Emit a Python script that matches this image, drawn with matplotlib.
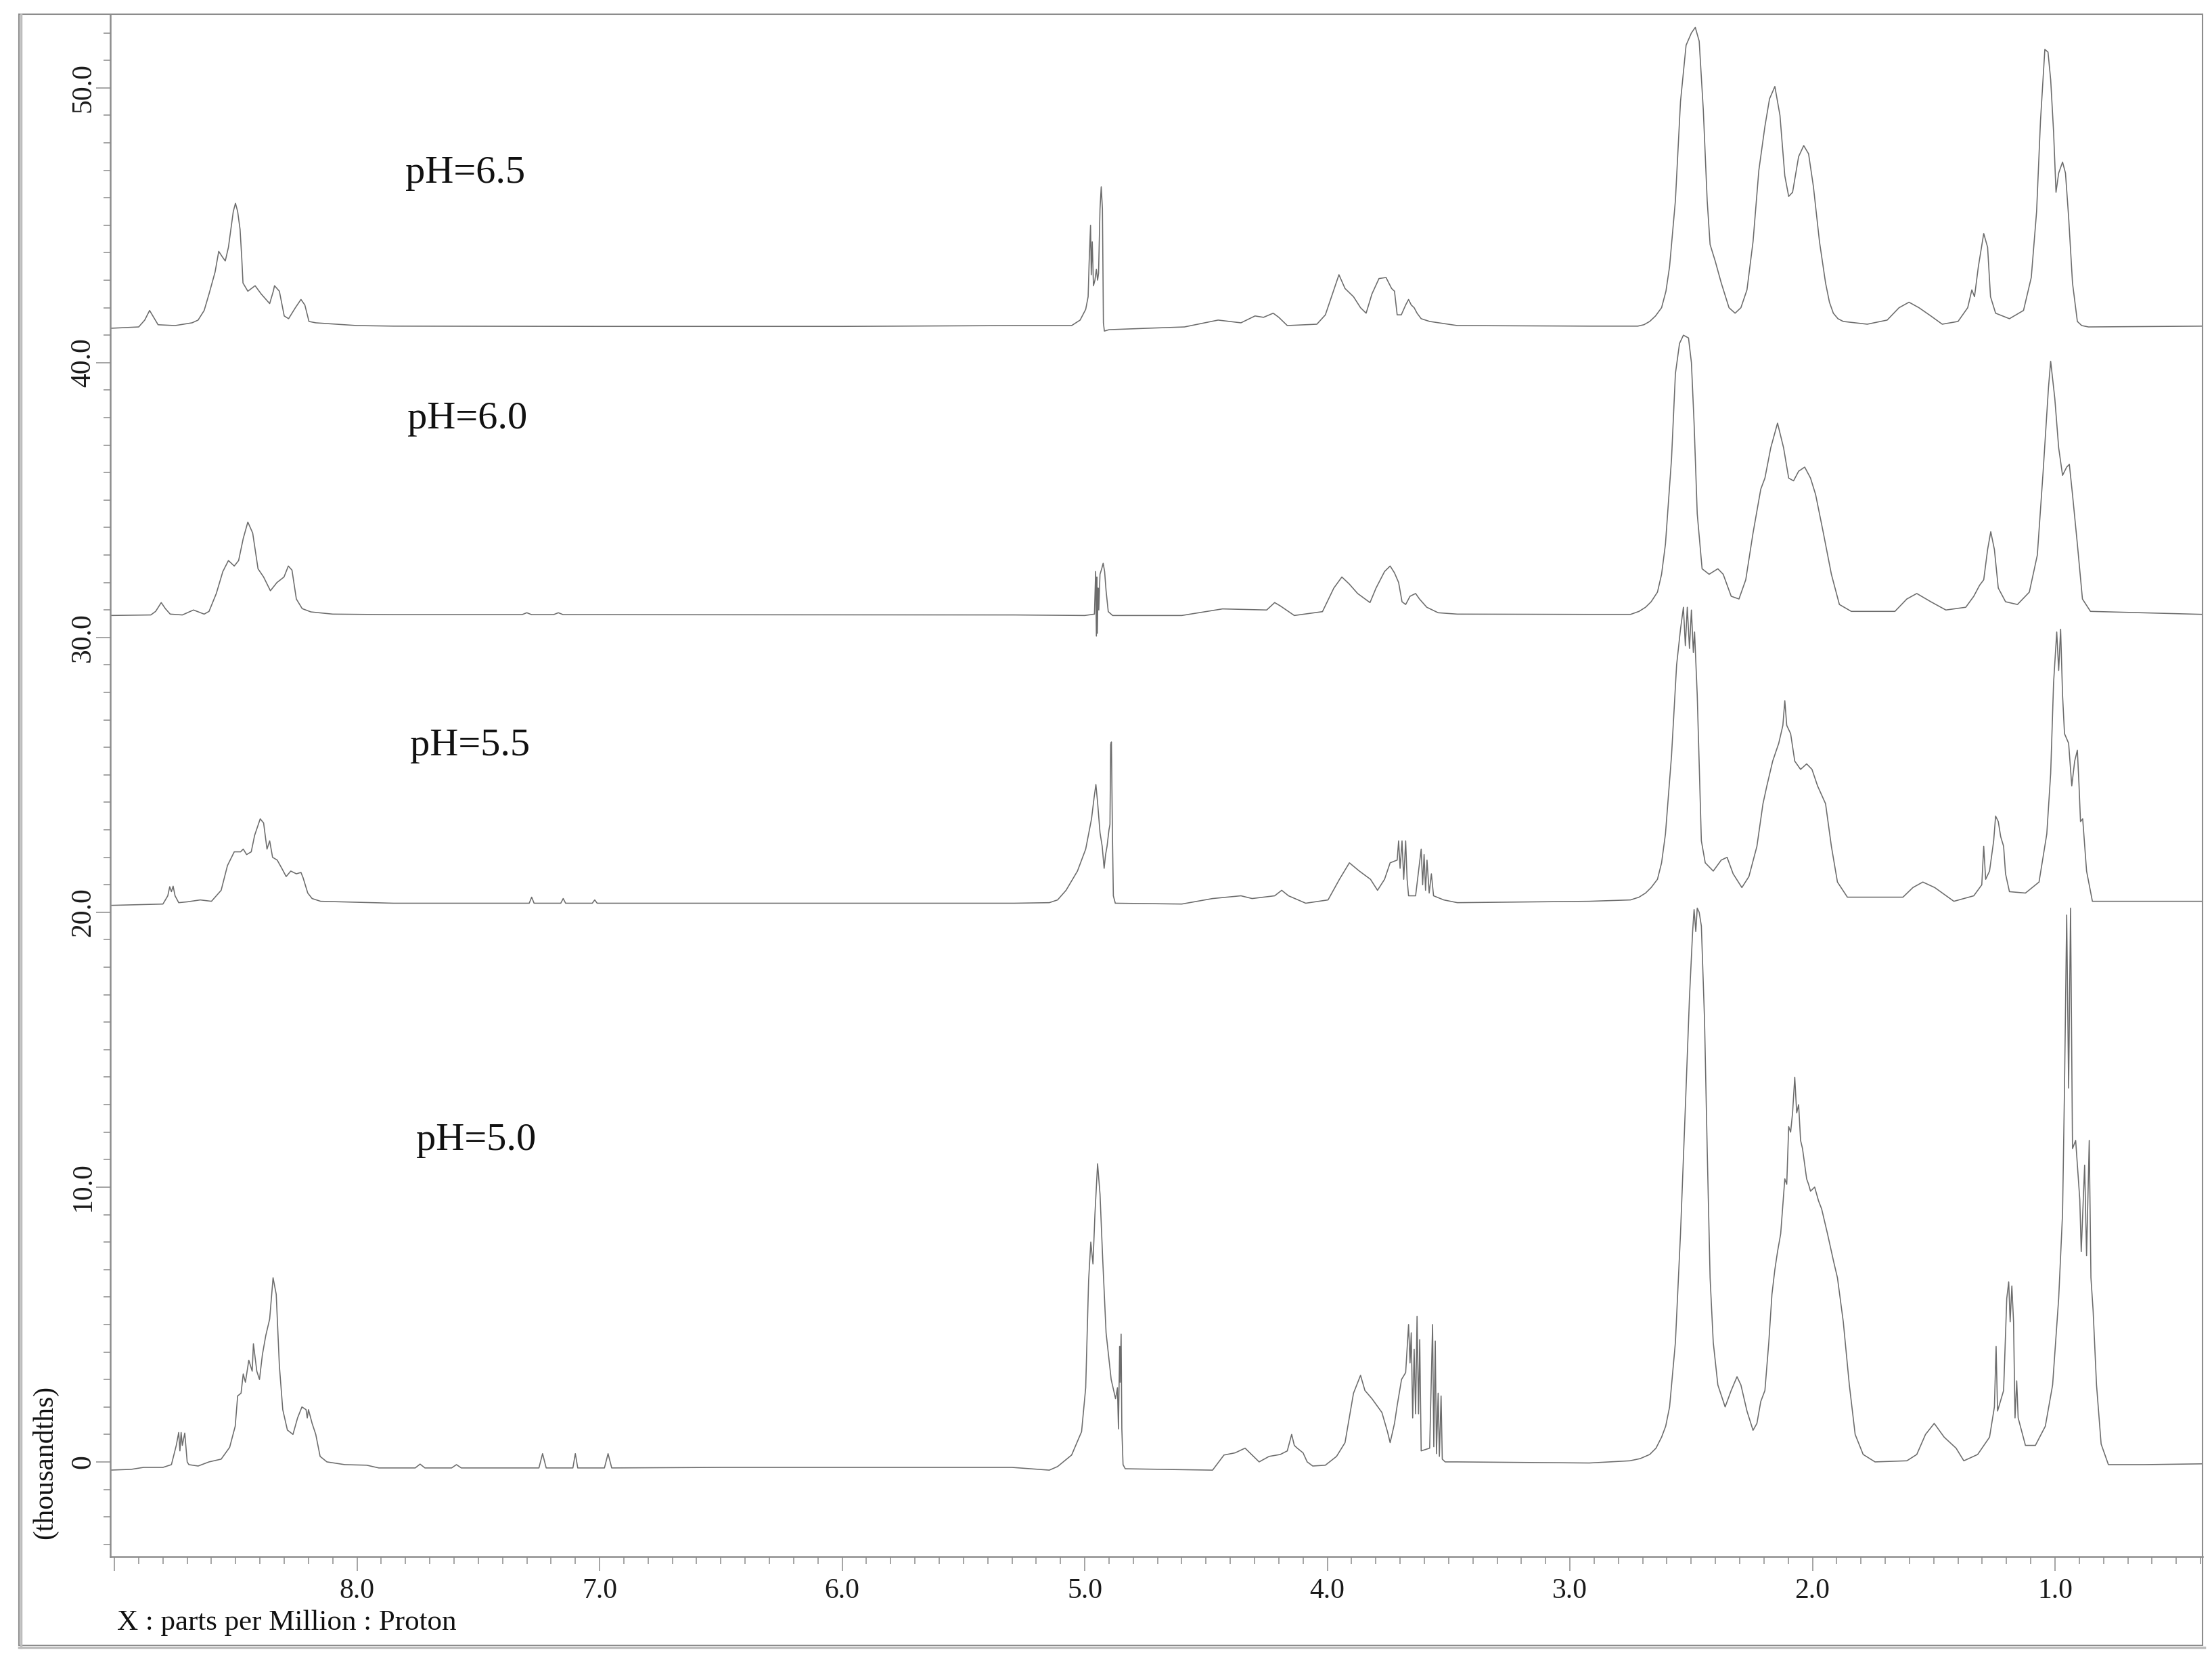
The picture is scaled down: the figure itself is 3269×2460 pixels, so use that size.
import numpy as np
import matplotlib
matplotlib.use("Agg")
import matplotlib.pyplot as plt
from matplotlib.ticker import MultipleLocator, FixedLocator, FixedFormatter
from matplotlib.patches import Rectangle
from matplotlib.lines import Line2D

# 1H NMR traces: (ppm, intensity in thousands)
ph65 = [
    (9.02, 41.25), (8.90, 41.3), (8.875, 41.55), (8.855, 41.9), (8.835, 41.6), (8.82, 41.38),
    (8.75, 41.35), (8.68, 41.45), (8.655, 41.55), (8.63, 41.9), (8.61, 42.5), (8.585, 43.3),
    (8.57, 44.05), (8.555, 43.85), (8.543, 43.7), (8.53, 44.2), (8.52, 44.85), (8.51, 45.5),
    (8.501, 45.8), (8.492, 45.5), (8.482, 44.85), (8.475, 43.8), (8.47, 42.9), (8.45, 42.6),
    (8.42, 42.8), (8.395, 42.5), (8.36, 42.15), (8.345, 42.6), (8.34, 42.8), (8.32, 42.6),
    (8.30, 41.7), (8.282, 41.6), (8.254, 42.0), (8.231, 42.3), (8.215, 42.1), (8.198, 41.5),
    (8.17, 41.45), (8.0, 41.35), (7.85, 41.33), (7.0, 41.32), (6.0, 41.32), (5.29, 41.35),
    (5.054, 41.35), (5.019, 41.55), (4.996, 41.94), (4.986, 42.4), (4.982, 43.6), (4.976, 45.0),
    (4.973, 43.2), (4.969, 44.4), (4.964, 42.8), (4.958, 43.0), (4.952, 43.4), (4.947, 43.0),
    (4.943, 43.25), (4.937, 45.6), (4.932, 46.4), (4.927, 45.6), (4.923, 41.45), (4.919, 41.15),
    (4.90, 41.2), (4.75, 41.25), (4.589, 41.3), (4.45, 41.55), (4.356, 41.45), (4.298, 41.7),
    (4.263, 41.65), (4.223, 41.8), (4.2, 41.65), (4.165, 41.35), (4.043, 41.4), (4.008, 41.74),
    (3.979, 42.5), (3.952, 43.2), (3.927, 42.7), (3.892, 42.4), (3.863, 42.0), (3.84, 41.8),
    (3.816, 42.5), (3.787, 43.06), (3.758, 43.1), (3.735, 42.7), (3.723, 42.6), (3.712, 41.74),
    (3.695, 41.74), (3.677, 42.1), (3.665, 42.3), (3.654, 42.1), (3.642, 42.0), (3.63, 41.8),
    (3.613, 41.6), (3.578, 41.5), (3.464, 41.35), (2.92, 41.33), (2.72, 41.33), (2.695, 41.38),
    (2.671, 41.5), (2.647, 41.7), (2.622, 42.0), (2.604, 42.6), (2.589, 43.5), (2.565, 45.9),
    (2.544, 49.5), (2.521, 51.55), (2.499, 52.0), (2.483, 52.2), (2.467, 51.7), (2.45, 49.2),
    (2.434, 45.9), (2.422, 44.3), (2.401, 43.7), (2.376, 42.9), (2.344, 42.0), (2.319, 41.8),
    (2.295, 42.0), (2.27, 42.65), (2.245, 44.4), (2.221, 47.0), (2.196, 48.6), (2.177, 49.6),
    (2.155, 50.05), (2.134, 49.0), (2.114, 46.8), (2.098, 46.05), (2.082, 46.2), (2.057, 47.5),
    (2.036, 47.9), (2.016, 47.6), (1.996, 46.4), (1.971, 44.4), (1.946, 42.9), (1.93, 42.2),
    (1.914, 41.8), (1.895, 41.6), (1.873, 41.5), (1.774, 41.4), (1.692, 41.55), (1.643, 42.0),
    (1.602, 42.2), (1.561, 42.0), (1.512, 41.7), (1.465, 41.4), (1.40, 41.5), (1.36, 42.0),
    (1.343, 42.65), (1.332, 42.4), (1.316, 43.5), (1.294, 44.7), (1.278, 44.2), (1.266, 42.4),
    (1.245, 41.8), (1.188, 41.6), (1.13, 41.9), (1.098, 43.1), (1.076, 45.5), (1.06, 48.8),
    (1.042, 51.4), (1.029, 51.3), (1.018, 50.3), (1.006, 48.4), (0.996, 46.2), (0.985, 46.9),
    (0.969, 47.3), (0.957, 46.9), (0.944, 45.3), (0.928, 42.9), (0.908, 41.5), (0.89, 41.35),
    (0.862, 41.3), (0.39, 41.33),
]

ph60 = [
    (9.02, 30.8), (8.85, 30.82), (8.83, 30.95), (8.807, 31.27), (8.79, 31.05), (8.77, 30.85),
    (8.72, 30.82), (8.674, 31.0), (8.63, 30.85), (8.61, 30.95), (8.58, 31.6), (8.553, 32.4),
    (8.53, 32.8), (8.506, 32.6), (8.488, 32.8), (8.469, 33.6), (8.45, 34.2), (8.43, 33.8),
    (8.408, 32.5), (8.385, 32.2), (8.357, 31.7), (8.33, 32.0), (8.301, 32.2), (8.283, 32.6),
    (8.268, 32.45), (8.25, 31.4), (8.226, 31.05), (8.19, 30.93), (8.1, 30.85), (7.85, 30.83),
    (7.32, 30.83), (7.30, 30.9), (7.28, 30.83), (7.19, 30.83), (7.17, 30.9), (7.15, 30.83),
    (5.29, 30.82), (5.0, 30.8), (4.96, 30.85), (4.955, 32.4), (4.952, 30.05), (4.95, 32.2),
    (4.948, 30.15), (4.945, 31.8), (4.942, 31.0), (4.937, 32.3), (4.93, 32.5), (4.924, 32.7),
    (4.918, 32.4), (4.912, 31.7), (4.903, 30.94), (4.885, 30.8), (4.6, 30.8), (4.432, 31.04),
    (4.25, 31.0), (4.217, 31.27), (4.194, 31.15), (4.136, 30.8), (4.02, 30.94), (3.973, 31.8),
    (3.94, 32.2), (3.91, 31.95), (3.875, 31.6), (3.824, 31.27), (3.799, 31.8), (3.764, 32.4),
    (3.741, 32.6), (3.723, 32.35), (3.706, 32.0), (3.692, 31.3), (3.677, 31.2), (3.659, 31.5),
    (3.636, 31.6), (3.62, 31.4), (3.59, 31.1), (3.543, 30.9), (3.464, 30.85), (2.92, 30.84),
    (2.75, 30.84), (2.715, 30.95), (2.688, 31.1), (2.665, 31.3), (2.639, 31.65), (2.622, 32.3),
    (2.606, 33.4), (2.581, 36.5), (2.565, 39.6), (2.548, 40.7), (2.532, 41.0), (2.511, 40.9),
    (2.499, 40.0), (2.488, 37.8), (2.475, 34.5), (2.455, 32.5), (2.426, 32.3), (2.39, 32.5),
    (2.368, 32.3), (2.335, 31.5), (2.303, 31.4), (2.275, 32.1), (2.245, 33.8), (2.213, 35.4),
    (2.196, 35.8), (2.172, 36.9), (2.144, 37.8), (2.119, 36.9), (2.098, 35.8), (2.078, 35.7),
    (2.057, 36.05), (2.032, 36.2), (2.008, 35.8), (1.987, 35.2), (1.955, 33.8), (1.922, 32.3),
    (1.889, 31.2), (1.84, 30.95), (1.66, 30.95), (1.611, 31.4), (1.57, 31.6), (1.512, 31.3),
    (1.45, 31.0), (1.368, 31.1), (1.335, 31.5), (1.311, 31.9), (1.294, 32.1), (1.278, 33.2),
    (1.265, 33.85), (1.25, 33.2), (1.234, 31.8), (1.204, 31.3), (1.155, 31.2), (1.106, 31.65),
    (1.073, 33.0), (1.049, 36.05), (1.027, 39.1), (1.018, 40.05), (1.001, 38.7), (0.985, 36.9),
    (0.969, 35.9), (0.952, 36.2), (0.941, 36.3), (0.928, 35.2), (0.908, 33.4), (0.887, 31.4),
    (0.854, 30.95), (0.39, 30.84),
]

ph55 = [
    (9.02, 20.25), (8.80, 20.3), (8.78, 20.6), (8.772, 20.93), (8.765, 20.75), (8.758, 20.95),
    (8.75, 20.6), (8.735, 20.35), (8.70, 20.38), (8.646, 20.45), (8.60, 20.4), (8.56, 20.8),
    (8.534, 21.7), (8.506, 22.2), (8.48, 22.2), (8.469, 22.3), (8.455, 22.1), (8.436, 22.2),
    (8.422, 22.8), (8.399, 23.4), (8.385, 23.25), (8.371, 22.3), (8.36, 22.6), (8.348, 22.0),
    (8.329, 21.9), (8.31, 21.6), (8.292, 21.3), (8.273, 21.5), (8.25, 21.4), (8.231, 21.45),
    (8.222, 21.25), (8.203, 20.7), (8.185, 20.5), (8.15, 20.4), (7.85, 20.33), (7.29, 20.33),
    (7.28, 20.55), (7.27, 20.33), (7.16, 20.33), (7.15, 20.5), (7.14, 20.33), (7.03, 20.33),
    (7.02, 20.45), (7.01, 20.33), (5.29, 20.33), (5.146, 20.35), (5.112, 20.45), (5.077, 20.8),
    (5.03, 21.5), (4.996, 22.3), (4.972, 23.4), (4.961, 24.2), (4.954, 24.65), (4.947, 24.0),
    (4.937, 22.9), (4.928, 22.4), (4.92, 21.6), (4.914, 22.1), (4.908, 22.4), (4.9, 23.0),
    (4.896, 23.2), (4.893, 26.1), (4.89, 26.2), (4.886, 23.0), (4.882, 20.6), (4.874, 20.33),
    (4.6, 20.3), (4.473, 20.5), (4.356, 20.6), (4.31, 20.5), (4.217, 20.6), (4.188, 20.8),
    (4.16, 20.6), (4.089, 20.33), (3.997, 20.45), (3.95, 21.2), (3.909, 21.8), (3.868, 21.5),
    (3.822, 21.2), (3.793, 20.8), (3.764, 21.2), (3.741, 21.8), (3.712, 21.9), (3.706, 22.6),
    (3.7, 21.6), (3.692, 22.6), (3.685, 21.2), (3.677, 22.6), (3.671, 21.2), (3.665, 20.6),
    (3.636, 20.6), (3.613, 22.3), (3.607, 21.0), (3.601, 22.1), (3.595, 20.8), (3.589, 21.9),
    (3.58, 20.7), (3.571, 21.4), (3.562, 20.6), (3.52, 20.45), (3.464, 20.35), (2.92, 20.4),
    (2.75, 20.45), (2.715, 20.55), (2.688, 20.7), (2.665, 20.9), (2.639, 21.2), (2.622, 21.8),
    (2.606, 22.85), (2.581, 25.7), (2.56, 29.0), (2.544, 30.3), (2.532, 31.1), (2.524, 29.7),
    (2.516, 31.1), (2.507, 29.6), (2.499, 31.0), (2.491, 29.45), (2.486, 30.2), (2.475, 27.9),
    (2.458, 22.6), (2.442, 21.8), (2.409, 21.5), (2.376, 21.9), (2.352, 22.0), (2.327, 21.4),
    (2.291, 20.9), (2.262, 21.3), (2.229, 22.4), (2.204, 23.95), (2.188, 24.6), (2.164, 25.5),
    (2.139, 26.15), (2.122, 26.8), (2.114, 27.7), (2.106, 26.8), (2.09, 26.5), (2.073, 25.5),
    (2.049, 25.2), (2.024, 25.4), (2.002, 25.2), (1.979, 24.6), (1.946, 23.95), (1.922, 22.4),
    (1.897, 21.1), (1.856, 20.55), (1.627, 20.55), (1.586, 20.9), (1.545, 21.1), (1.496, 20.9),
    (1.417, 20.4), (1.335, 20.6), (1.302, 21.0), (1.294, 22.4), (1.286, 21.2), (1.27, 21.5),
    (1.253, 22.6), (1.245, 23.5), (1.234, 23.3), (1.224, 22.75), (1.212, 22.4), (1.204, 21.4),
    (1.188, 20.75), (1.122, 20.7), (1.066, 21.1), (1.034, 22.85), (1.018, 25.05), (1.006, 28.35),
    (0.993, 30.2), (0.985, 28.8), (0.977, 30.3), (0.969, 27.9), (0.961, 26.5), (0.944, 26.15),
    (0.931, 24.6), (0.919, 25.5), (0.908, 25.9), (0.901, 24.6), (0.895, 23.3), (0.886, 23.4),
    (0.87, 21.5), (0.846, 20.4), (0.39, 20.4),
]

ph50 = [
    (9.02, -0.3), (8.93, -0.27), (8.88, -0.2), (8.80, -0.2), (8.765, -0.1), (8.745, 0.6),
    (8.735, 1.07), (8.73, 0.4), (8.725, 1.07), (8.72, 0.6), (8.71, 1.05), (8.70, 0.0),
    (8.693, -0.1), (8.655, -0.15), (8.61, 0.0), (8.56, 0.1), (8.525, 0.53), (8.502, 1.3),
    (8.492, 2.4), (8.478, 2.5), (8.469, 3.2), (8.46, 2.9), (8.446, 3.7), (8.432, 3.3),
    (8.427, 4.3), (8.413, 3.3), (8.402, 3.0), (8.39, 3.9), (8.376, 4.6), (8.36, 5.2),
    (8.346, 6.7), (8.333, 6.1), (8.32, 3.5), (8.306, 1.9), (8.287, 1.16), (8.264, 1.0),
    (8.245, 1.6), (8.227, 2.0), (8.21, 1.9), (8.205, 1.6), (8.2, 1.9), (8.194, 1.7),
    (8.185, 1.4), (8.17, 1.0), (8.152, 0.2), (8.124, 0.0), (8.05, -0.1), (7.96, -0.12),
    (7.91, -0.22), (7.76, -0.22), (7.74, -0.08), (7.72, -0.22), (7.61, -0.22), (7.59, -0.1),
    (7.57, -0.22), (7.25, -0.22), (7.235, 0.3), (7.22, -0.22), (7.11, -0.22), (7.10, 0.3),
    (7.09, -0.22), (6.98, -0.22), (6.965, 0.3), (6.95, -0.22), (6.5, -0.2), (5.3, -0.2),
    (5.146, -0.3), (5.112, -0.17), (5.054, 0.25), (5.013, 1.1), (4.996, 2.7), (4.984, 6.6),
    (4.975, 8.0), (4.966, 7.2), (4.958, 9.0), (4.947, 10.85), (4.937, 9.75), (4.926, 7.4),
    (4.912, 4.7), (4.891, 3.0), (4.873, 2.3), (4.865, 2.7), (4.861, 1.2), (4.856, 4.2),
    (4.854, 2.9), (4.85, 4.65), (4.847, 1.2), (4.842, -0.1), (4.833, -0.25), (4.473, -0.3),
    (4.426, 0.25), (4.38, 0.33), (4.339, 0.5), (4.31, 0.25), (4.281, 0.0), (4.24, 0.2),
    (4.194, 0.27), (4.165, 0.4), (4.147, 1.0), (4.136, 0.6), (4.124, 0.5), (4.1, 0.33),
    (4.083, 0.0), (4.06, -0.15), (4.008, -0.12), (3.962, 0.2), (3.927, 0.7), (3.892, 2.5),
    (3.863, 3.15), (3.845, 2.6), (3.816, 2.3), (3.775, 1.8), (3.752, 1.1), (3.741, 0.7),
    (3.723, 1.4), (3.712, 2.05), (3.694, 3.0), (3.677, 3.25), (3.665, 5.0), (3.659, 3.6),
    (3.654, 4.7), (3.648, 1.6), (3.642, 4.1), (3.636, 1.75), (3.63, 5.3), (3.624, 1.75),
    (3.619, 4.45), (3.613, 0.4), (3.578, 0.5), (3.566, 5.0), (3.561, 0.55), (3.555, 4.4),
    (3.55, 0.3), (3.543, 2.5), (3.538, 0.2), (3.531, 2.4), (3.526, 0.1), (3.514, 0.0),
    (3.464, 0.0), (2.92, -0.04), (2.753, 0.04), (2.71, 0.12), (2.671, 0.27), (2.645, 0.5),
    (2.622, 0.9), (2.605, 1.3), (2.589, 2.0), (2.565, 4.35), (2.544, 8.3), (2.524, 12.9),
    (2.507, 16.9), (2.494, 19.3), (2.488, 20.1), (2.481, 19.3), (2.475, 20.15), (2.467, 20.0),
    (2.458, 19.5), (2.445, 16.1), (2.434, 11.4), (2.422, 6.7), (2.409, 4.35), (2.39, 2.8),
    (2.36, 2.0), (2.335, 2.6), (2.311, 3.1), (2.295, 2.8), (2.27, 1.85), (2.245, 1.15),
    (2.229, 1.4), (2.213, 2.2), (2.196, 2.6), (2.18, 4.35), (2.167, 6.1), (2.155, 7.0),
    (2.144, 7.65), (2.131, 8.3), (2.114, 10.3), (2.106, 10.1), (2.098, 12.2), (2.09, 12.0),
    (2.082, 12.7), (2.073, 14.0), (2.065, 12.7), (2.057, 13.0), (2.049, 11.7), (2.041, 11.4),
    (2.024, 10.3), (2.016, 10.1), (2.008, 9.85), (1.991, 10.0), (1.975, 9.5), (1.962, 9.2),
    (1.938, 8.3), (1.913, 7.3), (1.897, 6.7), (1.873, 5.1), (1.848, 2.8), (1.824, 1.0),
    (1.791, 0.27), (1.742, 0.0), (1.611, 0.04), (1.57, 0.27), (1.534, 1.0), (1.498, 1.4),
    (1.457, 0.9), (1.408, 0.5), (1.376, 0.04), (1.319, 0.27), (1.27, 0.9), (1.25, 2.0),
    (1.243, 4.2), (1.237, 1.85), (1.212, 2.6), (1.199, 5.95), (1.191, 6.55), (1.185, 5.1),
    (1.178, 6.4), (1.171, 5.1), (1.165, 1.6), (1.158, 2.95), (1.152, 1.6), (1.122, 0.6),
    (1.081, 0.6), (1.04, 1.3), (1.01, 2.8), (0.985, 5.95), (0.969, 9.05), (0.961, 13.6),
    (0.952, 19.9), (0.944, 13.6), (0.936, 20.15), (0.928, 11.4), (0.915, 11.7), (0.908, 10.8),
    (0.898, 9.55), (0.892, 7.65), (0.878, 10.8), (0.87, 7.5), (0.859, 11.7), (0.852, 6.7),
    (0.843, 5.5), (0.829, 2.8), (0.81, 0.65), (0.78, -0.1), (0.633, -0.1), (0.39, -0.07),
]

spectra = [ph65, ph60, ph55, ph50]
labels = ["pH=6.5", "pH=6.0", "pH=5.5", "pH=5.0"]
label_x = [7.555, 7.545, 7.535, 7.51]
label_y = [46.9, 37.95, 26.05, 11.7]

x_ticks = [9, 8, 7, 6, 5, 4, 3, 2, 1]
x_ticklabels = ["", "8.0", "7.0", "6.0", "5.0", "4.0", "3.0", "2.0", "1.0"]
y_ticks = [0, 10, 20, 30, 40, 50]
y_ticklabels = ["0", "10.0", "20.0", "30.0", "40.0", "50.0"]

W, H = 3269, 2460
serif = "Liberation Serif"
gray = "#8c8c8c"

fig = plt.figure(figsize=(W / 100, H / 100), dpi=100)
fig.patch.set_facecolor("white")

# axes box in pixels: left 163, right 3255, top 21, bottom 2300
ax = fig.add_axes([163 / W, (H - 2300) / H, (3255 - 163) / W, (2300 - 21) / H])

for spec in spectra:
    arr = np.array(spec)
    ax.plot(arr[:, 0], arr[:, 1], color="#6c6c6c", lw=1.15)

for s, lx, ly in zip(labels, label_x, label_y):
    ax.text(lx, ly, s, ha="center", va="center", fontsize=42,
            family=serif, color="#111111")

ax.set_xlim(9.017, 0.392)
ax.set_ylim(-3.45, 52.68)

for side in ["top", "right"]:
    ax.spines[side].set_visible(False)
for side in ["left", "bottom"]:
    ax.spines[side].set_color(gray)
    ax.spines[side].set_linewidth(1.8)

ax.xaxis.set_major_locator(FixedLocator(x_ticks))
ax.xaxis.set_major_formatter(FixedFormatter(x_ticklabels))
ax.xaxis.set_minor_locator(MultipleLocator(0.1))
ax.yaxis.set_major_locator(FixedLocator(y_ticks))
ax.yaxis.set_major_formatter(FixedFormatter(y_ticklabels))
ax.yaxis.set_minor_locator(MultipleLocator(1))

ax.tick_params(axis="x", which="major", length=15, width=1.1, color=gray,
               pad=8, labelsize=30, labelcolor="#1a1a1a")
ax.tick_params(axis="x", which="minor", length=8, width=1.1, color=gray)
ax.tick_params(axis="y", which="major", length=15, width=1.1, color=gray,
               pad=0, labelsize=30, labelcolor="#1a1a1a")
ax.tick_params(axis="y", which="minor", length=7, width=1.1, color=gray)
for lab in ax.get_xticklabels():
    lab.set_family(serif)
for lab in ax.get_yticklabels():
    lab.set_family(serif)
    lab.set_rotation(90)
    lab.set_va("center")
    lab.set_ha("right")

fig.text(173 / W, 1 - 2398 / H, "X : parts per Million : Proton", ha="left", va="center",
         fontsize=31, family=serif, color="#111111")
fig.text(67 / W, 1 - 2160 / H, "(thousandths)", ha="center", va="center", rotation=90,
         fontsize=30, family=serif, color="#111111")

# outer frame with a soft shadow on the left and bottom edges
fig.add_artist(Rectangle((28 / W, 1 - 2431 / H), (3255 - 28) / W, (2431 - 21) / H,
                         transform=fig.transFigure, fill=False, edgecolor=gray, lw=1.5))
fig.add_artist(Line2D([31 / W, 31 / W], [1 - 2434 / H, 1 - 21 / H],
                      transform=fig.transFigure, color="#bdbdbd", lw=2.5))
fig.add_artist(Line2D([28 / W, 3258 / W], [1 - 2434 / H, 1 - 2434 / H],
                      transform=fig.transFigure, color="#bdbdbd", lw=2.5))

fig.savefig("out.png", dpi=100, facecolor="white")
